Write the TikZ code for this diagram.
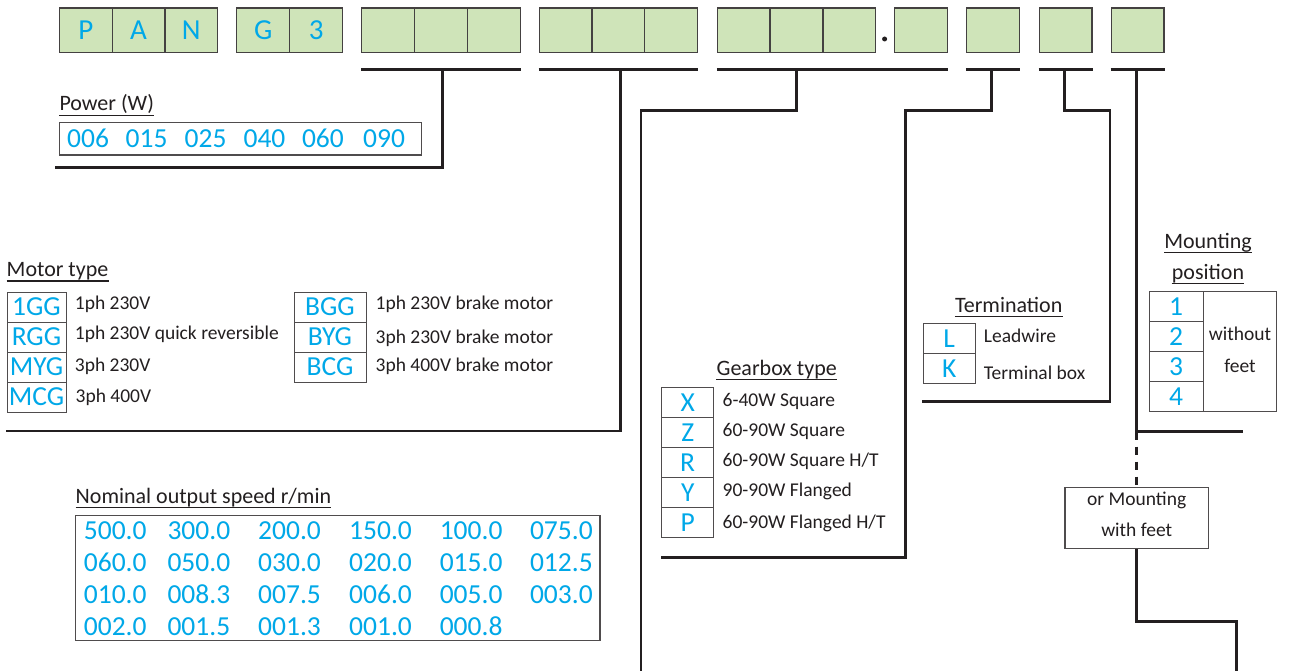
\documentclass[tikz,border=0pt]{standalone}
\usepackage{fontspec}
\setmainfont{Carlito}
\definecolor{boxgreen}{RGB}{207,228,185}
\definecolor{codeblue}{RGB}{0,168,232}
\definecolor{ink}{RGB}{35,31,32}
\begin{document}
\begin{tikzpicture}[x=1pt,y=-1pt,
  topbox/.style={draw=ink!85, line width=1.2pt, fill=boxgreen, minimum width=52.7pt, minimum height=44.7pt, inner sep=0pt, font=\fontsize{29}{30}\selectfont, text=codeblue},
  wire/.style={draw=ink, line width=2.7pt, line join=miter},
  frame/.style={draw=ink!80, line width=1.1pt, inner sep=0pt},
  cell/.style={draw=ink!80, line width=1pt, inner sep=0pt, minimum height=30pt, font=\fontsize{27.5}{30}\selectfont, text=codeblue},
  code/.style={inner sep=0pt, anchor=base west, font=\fontsize{27.5}{30}\selectfont, text=codeblue},
  lbl/.style={inner sep=0pt, anchor=base west, font=\fontsize{19.5}{22}\selectfont, text=ink},
  ttl/.style={inner sep=0pt, font=\fontsize{22}{26}\selectfont, text=ink},
  uline/.style={draw=ink, line width=1.2pt}
]
\useasboundingbox (0,0) rectangle (1290,671);
\fill[white] (0,0) rectangle (1290,671);

% ---------- top code boxes ----------
\node[topbox] (p1) at (85.8,30.4) {P};
\node[topbox] (p2) at (138.5,30.4) {A};
\node[topbox] (p3) at (191.3,30.4) {N};
\node[topbox] (p4) at (263.2,30.4) {G};
\node[topbox] (p5) at (316.2,30.4) {3};
\node[topbox] (g3a) at (388,30.4) {};
\node[topbox] (g3b) at (441,30.4) {};
\node[topbox] (g3c) at (493.9,30.4) {};
\node[topbox] (g4a) at (565.5,30.4) {};
\node[topbox] (g4b) at (618.5,30.4) {};
\node[topbox] (g4c) at (671.2,30.4) {};
\node[topbox] (g5a) at (743.7,30.4) {};
\node[topbox] (g5b) at (796.5,30.4) {};
\node[topbox] (g5c) at (849.3,30.4) {};
\node[circle, fill=ink, inner sep=0pt, minimum size=5pt] (dot) at (884.6,39) {};
\node[topbox] (g5d) at (921,30.4) {};
\node[topbox] (g6) at (992.8,30.4) {};
\node[topbox] (g7) at (1065.6,30.4) {};
\node[topbox] (g8) at (1137.6,30.4) {};

% ---------- bars ----------
\coordinate (bar) at (0,69.7);
\draw[wire] (g3a.west |- bar) -- (g3c.east |- bar);
\draw[wire] (g4a.west |- bar) -- (g4c.east |- bar);
\draw[wire] (g5a.west |- bar) -- (g5d.east |- bar);
\draw[wire] (g6.west |- bar) -- (g6.east |- bar);
\draw[wire] (g7.west |- bar) -- (g7.east |- bar);
\draw[wire] (g8.west |- bar) -- (g8.east |- bar);

% ---------- Power ----------
\node[ttl, anchor=base west] (tpow) at (59.3,111) {Power (W)};
\draw[uline] ([yshift=-4.3pt]tpow.base west) -- ([yshift=-4.3pt]tpow.base east);
\node[frame, minimum width=362.3pt, minimum height=32.7pt] (pow) at (240.45,138.65) {};
\node[code] (w1) at (67,147.3) {006};
\node[code] (w2) at (125.5,147.3) {015};
\node[code] (w3) at (184.5,147.3) {025};
\node[code] (w4) at (243.4,147.3) {040};
\node[code] (w5) at (301.8,147.3) {060};
\node[code] (w6) at (363,147.3) {090};
\coordinate (powend) at (55,167.7);
\draw[wire] ([xshift=1.8pt]g3b.center |- bar) |- (powend);

% ---------- Motor type ----------
\node[ttl, anchor=base west] (tmot) at (6.5,276.7) {Motor type};
\draw[uline] ([yshift=-4.3pt]tmot.base west) -- ([yshift=-4.3pt]tmot.base east);
\node[cell, minimum width=59pt] (m1) at (36.5,307) {1GG};
\node[cell, minimum width=59pt] (m2) at (36.5,337) {RGG};
\node[cell, minimum width=59pt] (m3) at (36.5,367) {MYG};
\node[cell, minimum width=59pt] (m4) at (36.5,397) {MCG};
\node[lbl] (ml1) at (74.7,309) {1ph 230V};
\node[lbl] (ml2) at (74.7,339.3) {1ph 230V quick reversible};
\node[lbl] (ml3) at (74.7,371) {3ph 230V};
\node[lbl] (ml4) at (75.5,402) {3ph 400V};
\node[cell, minimum width=72pt] (m5) at (330,307) {BGG};
\node[cell, minimum width=72pt] (m6) at (330,337) {BYG};
\node[cell, minimum width=72pt] (m7) at (330,367) {BCG};
\node[lbl] (ml5) at (375.5,309) {1ph 230V brake motor};
\node[lbl] (ml6) at (375.5,343) {3ph 230V brake motor};
\node[lbl] (ml7) at (375.5,371) {3ph 400V brake motor};
\coordinate (motend) at (6,431);
\draw[wire] ([xshift=2pt]g4b.center |- bar) |- (motend);

% ---------- Nominal output speed ----------
\node[ttl, anchor=base west] (tspd) at (75.5,503.4) {Nominal output speed r/min};
\draw[uline] ([yshift=-4.3pt]tspd.base west) -- ([yshift=-4.3pt]tspd.base east);
\node[frame, minimum width=524.5pt, minimum height=125pt] (spd) at (337.75,578.2) {};
\foreach \r/\y in {1/539.3,2/571.7,3/603.3,4/635.7}{
  \foreach \c/\x in {1/83.7,2/167.3,3/258,4/349,5/439.6,6/529.8}{
    \coordinate (s\r\c) at (\x,\y);
  }
}
\node[code] at (s11) {500.0}; \node[code] at (s12) {300.0}; \node[code] at (s13) {200.0};
\node[code] at (s14) {150.0}; \node[code] at (s15) {100.0}; \node[code] at (s16) {075.0};
\node[code] at (s21) {060.0}; \node[code] at (s22) {050.0}; \node[code] at (s23) {030.0};
\node[code] at (s24) {020.0}; \node[code] at (s25) {015.0}; \node[code] at (s26) {012.5};
\node[code] at (s31) {010.0}; \node[code] at (s32) {008.3}; \node[code] at (s33) {007.5};
\node[code] at (s34) {006.0}; \node[code] at (s35) {005.0}; \node[code] at (s36) {003.0};
\node[code] at (s41) {002.0}; \node[code] at (s42) {001.5}; \node[code] at (s43) {001.3};
\node[code] at (s44) {001.0}; \node[code] at (s45) {000.8};
\coordinate (spdend) at (641,673);
\draw[wire] (g5b.center |- bar) -- ++(0,40.6) -| (spdend);

% ---------- Gearbox type ----------
\node[ttl, anchor=base] (tgb) at (776.7,375) {Gearbox type};
\draw[uline] ([yshift=-4.3pt]tgb.base west) -- ([yshift=-4.3pt]tgb.base east);
\node[cell, minimum width=52pt] (x1) at (687.7,402.5) {X};
\node[cell, minimum width=52pt] (x2) at (687.7,432.5) {Z};
\node[cell, minimum width=52pt] (x3) at (687.7,462.5) {R};
\node[cell, minimum width=52pt] (x4) at (687.7,492.5) {Y};
\node[cell, minimum width=52pt] (x5) at (687.7,522.5) {P};
\node[lbl] (xl1) at (722.5,406.3) {6-40W Square};
\node[lbl] (xl2) at (722.5,436.3) {60-90W Square};
\node[lbl] (xl3) at (722.5,466.3) {60-90W Square H/T};
\node[lbl] (xl4) at (722.5,496.3) {90-90W Flanged};
\node[lbl] (xl5) at (722.5,528) {60-90W Flanged H/T};
\coordinate (gbcorner) at (905.4,557.3);
\draw[wire] ([xshift=-1.2pt]g6.center |- bar) -- ++(0,40.6) -| (gbcorner) -- (x1.west |- gbcorner);

% ---------- Termination ----------
\node[ttl, anchor=base] (tterm) at (1008.7,312.4) {Termination};
\draw[uline] ([yshift=-4.3pt]tterm.base west) -- ([yshift=-4.3pt]tterm.base east);
\node[cell, minimum width=52.4pt] (tL) at (949.2,338.3) {L};
\node[cell, minimum width=52.4pt] (tK) at (949.2,368.3) {K};
\node[lbl] (tl1) at (983.7,342) {Leadwire};
\node[lbl] (tl2) at (983.7,379) {Terminal box};
\coordinate (tcorner) at (1110,401.7);
\draw[wire] ([xshift=-1.1pt]g7.center |- bar) -- ++(0,40.6) -| (tcorner) -- ([xshift=-1pt]tL.west |- tcorner);

% ---------- Mounting position ----------
\node[ttl, anchor=base] (tm1) at (1208,248.4) {Mounting};
\draw[uline] ([yshift=-4.3pt]tm1.base west) -- ([yshift=-4.3pt]tm1.base east);
\node[ttl, anchor=base] (tm2) at (1208,279) {position};
\draw[uline] ([yshift=-4.3pt]tm2.base west) -- ([yshift=-4.3pt]tm2.base east);
\node[cell, minimum width=54pt] (n1) at (1176,306.7) {1};
\node[cell, minimum width=54pt] (n2) at (1176,336.6) {2};
\node[cell, minimum width=54pt] (n3) at (1176,366.6) {3};
\node[cell, minimum width=54pt] (n4) at (1176,396.6) {4};
\node[draw=ink!80, line width=1pt, inner sep=0pt, minimum width=73.5pt, minimum height=119.9pt] (wof) at (1239.75,351.7) {};
\node[lbl, anchor=base] (wo1) at (1240,340.5) {without};
\node[lbl, anchor=base] (wo2) at (1240,372) {feet};

\coordinate (mjoin) at (1136.5,431.5);
\coordinate (mend) at (1243,431.5);
\draw[wire] ([xshift=-1.1pt]g8.center |- bar) -- (mjoin);
\draw[wire] (mjoin) -- (mend);
\node[frame, minimum width=143.5pt, minimum height=60.6pt] (feet) at (1136.7,518) {};
\node[lbl, anchor=base] (fe1) at (1136.7,505) {or Mounting};
\node[lbl, anchor=base] (fe2) at (1136.7,536.7) {with feet};
\draw[wire, dash pattern=on 8.5pt off 6.5pt] (mjoin) -- (feet.north -| mjoin);
\coordinate (fcorner) at (1236.5,621.5);
\coordinate (fend) at (1236.5,673);
\draw[wire] (feet.south -| mjoin) |- (fcorner) -- (fend);
\end{tikzpicture}
\end{document}
